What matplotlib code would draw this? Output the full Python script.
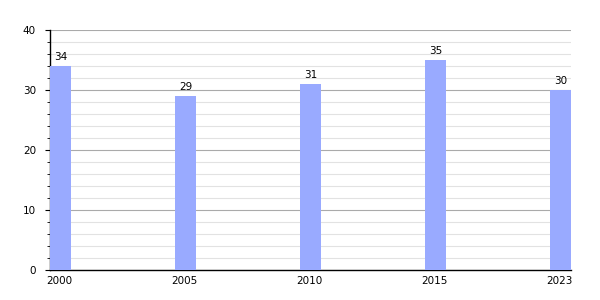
import matplotlib
matplotlib.use('Agg')
import matplotlib.pyplot as plt
from matplotlib.ticker import MultipleLocator

years = ['2000', '2005', '2010', '2015', '2023']
values = [34, 29, 31, 35, 30]

fig = plt.figure(figsize=(6, 3), dpi=100)
ax = fig.add_axes([50 / 600, 30 / 300, 521 / 600, 240 / 300])

bar_w = 21 / 125.25
pos = list(range(len(years)))
ax.bar(pos, values, width=bar_w, align='edge', color='#99aaff', zorder=3)

for x, v in zip(pos, values):
    ax.text(x + bar_w / 2, v + 0.6, str(v), ha='center', va='bottom', fontsize=7.5, zorder=4)

ax.set_xlim(0, len(years) - 1 + bar_w)
ax.set_ylim(0, 40)
ax.set_xticks([p + bar_w / 2 - 0.01 for p in pos])
ax.set_xticklabels(years, fontsize=7.5)
ax.tick_params(axis='x', length=0, pad=4)
ax.yaxis.set_major_locator(MultipleLocator(10))
ax.yaxis.set_minor_locator(MultipleLocator(2))
ax.tick_params(axis='y', which='major', length=3.6, labelsize=7.5, pad=6.5)
ax.tick_params(axis='y', which='minor', length=2.2)

ax.grid(axis='y', which='major', color='#aaaaaa', linewidth=0.8, zorder=0)
ax.grid(axis='y', which='minor', color='#e2e2e2', linewidth=0.8, zorder=0)

for s in ['top', 'right']:
    ax.spines[s].set_visible(False)
ax.spines['left'].set_linewidth(1)
ax.spines['bottom'].set_linewidth(1)

fig.savefig('out.png', dpi=100)
